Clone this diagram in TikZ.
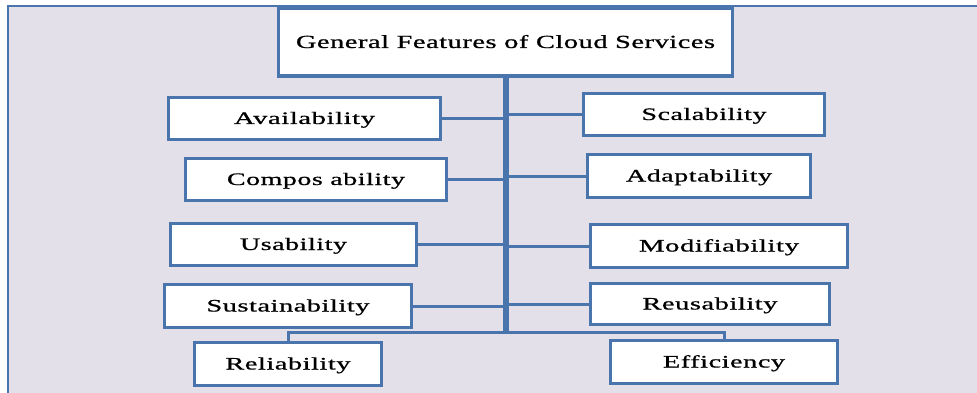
\documentclass[tikz,border=0pt]{standalone}
\usepackage{fontspec}
\usepackage{graphicx}
\setmainfont{Liberation Serif}
\newfontfamily\lblfont[LetterSpace=2,FakeBold=0.7]{Liberation Serif}
\definecolor{bx}{RGB}{74,117,172}
\definecolor{bgc}{RGB}{228,224,234}
\newcommand{\lbl}[2]{\resizebox{#1pt}{\height}{\lblfont #2}}
\tikzset{
  box/.style={draw=bx, fill=white, line width=3.8pt, rectangle, inner sep=0pt,
    text height=11pt, text depth=0pt, font=\fontsize{17.5}{20}\selectfont},
  conn/.style={draw=bx, line width=3pt},
  trunkline/.style={draw=bx, line width=5.5pt},
}
\begin{document}
\begin{tikzpicture}[x=1pt,y=-1pt]
\useasboundingbox (0,0) rectangle (977,393);
\clip (0,0) rectangle (977,393);
\fill[white] (0,0) rectangle (977,393);
\draw[fill=bgc, draw=bx, line width=1.8pt] (8,6) rectangle (995,410);

\node[box, minimum width=454pt, minimum height=68pt, text height=12pt, font=\fontsize{18.5}{22}\selectfont] (title) at (505.5,42) {\lbl{419}{General Features of Cloud Services}};

\node[box, minimum width=272pt, minimum height=42pt] (avail) at (304.5,118.5) {\lbl{141}{Availability}};
\node[box, minimum width=241pt, minimum height=42pt] (scal) at (704,114.5) {\lbl{125}{Scalability}};
\node[box, minimum width=261pt, minimum height=42pt] (comp) at (316,179.5) {\lbl{178}{Compos ability}};
\node[box, minimum width=223pt, minimum height=43pt] (adapt) at (699,176) {\lbl{146}{Adaptability}};
\node[box, minimum width=246pt, minimum height=42pt] (usab) at (293.5,244.5) {\lbl{107}{Usability}};
\node[box, minimum width=257pt, minimum height=43pt] (modif) at (719,246) {\lbl{160}{Modifiability}};
\node[box, minimum width=247pt, minimum height=43pt] (sust) at (288,306) {\lbl{163}{Sustainability}};
\node[box, minimum width=239pt, minimum height=41pt] (reus) at (710,304) {\lbl{135}{Reusability}};
\node[box, minimum width=187pt, minimum height=43pt] (rel) at (288,364) {\lbl{125}{Reliability}};
\node[box, minimum width=227pt, minimum height=43pt] (eff) at (724,362) {\lbl{122}{Efficiency}};

\coordinate (tb) at (506,332);
\draw[trunkline] (title.south -| tb) -- (tb);
\draw[conn] (avail.east) -- (avail.east -| tb);
\draw[conn] (comp.east) -- (comp.east -| tb);
\draw[conn] (usab.east) -- (usab.east -| tb);
\draw[conn] (sust.east) -- (sust.east -| tb);
\draw[conn] (scal.west) -- (scal.west -| tb);
\draw[conn] (adapt.west) -- (adapt.west -| tb);
\draw[conn] (modif.west) -- (modif.west -| tb);
\draw[conn] (reus.west) -- (reus.west -| tb);
\draw[conn] (rel.north) |- (tb) -| (eff.north);
\end{tikzpicture}
\end{document}
